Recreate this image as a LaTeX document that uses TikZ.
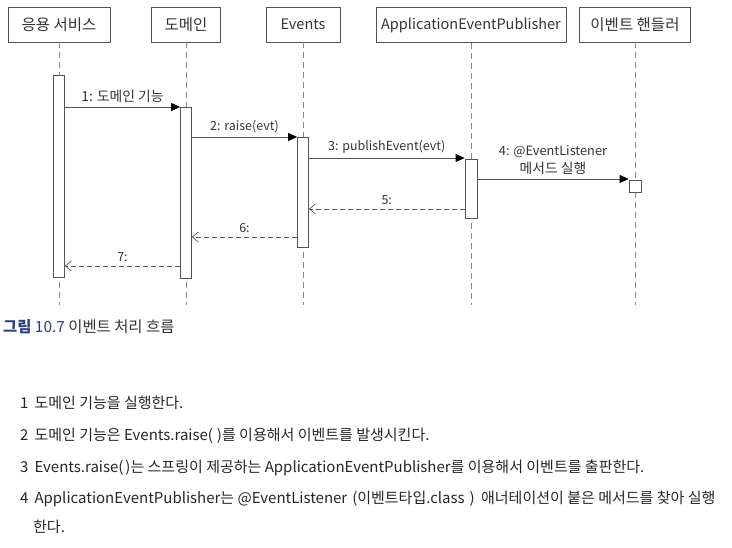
\documentclass[tikz,border=0pt]{standalone}
\usepackage{fontspec}
\setmainfont{Noto Sans CJK KR}
\usetikzlibrary{arrows.meta}
\definecolor{ln}{HTML}{555555}
\definecolor{tx}{HTML}{333333}
\definecolor{capblue}{HTML}{2B3F8C}
\newcommand\pgap{(\hspace{4pt})}
\newcommand\pgapn{(\hspace{2pt})}
\begin{document}
\begin{tikzpicture}[x=1pt,y=-1pt,
  head/.style={draw=ln, line width=0.7pt, rectangle, minimum height=35pt, inner sep=0pt, font=\fontsize{15.5}{17}\selectfont, text=tx},
  lathead/.style={head, font=\fontsize{14.5}{17}\selectfont},
  act/.style={draw=ln, fill=white, line width=0.7pt, inner sep=0pt, minimum width=11pt},
  life/.style={draw=ln!70, dash pattern=on 6pt off 4pt, line width=0.5pt},
  msg/.style={draw=ln, line width=0.7pt, -{Triangle[length=9pt,width=8pt,color=black]}},
  ret/.style={draw=ln, line width=0.7pt, dash pattern=on 5pt off 3pt, -{Straight Barb[length=6pt,width=10pt]}},
  lbl/.style={font=\fontsize{12.5}{18}\selectfont, text=tx, midway, above=3pt, inner sep=1pt},
  krlbl/.style={lbl, font=\fontsize{13.8}{18}\selectfont},
  listline/.style={anchor=west, font=\fontsize{15}{17}\selectfont, text=black!85, inner sep=0pt}]
\useasboundingbox (0,0) rectangle (732,548);
% headers
\node[head, minimum width=102pt] (h1) at (59,24.5) {응용 서비스};
\node[head, minimum width=69pt] (h2) at (186,24.5) {도메인};
\node[lathead, minimum width=74pt] (h3) at (303,24.5) {Events};
\node[lathead, minimum width=190pt] (h4) at (471,25) {ApplicationEventPublisher};
\node[head, minimum width=111pt] (h5) at (635,24.5) {이벤트 핸들러};
% lifeline ends
\coordinate (e1) at (59,305);
\coordinate (e2) at (186,305);
\coordinate (e3) at (303,305);
\coordinate (e4) at (471,305);
\coordinate (e5) at (635,305);
\draw[life] (h1.south) -- (e1);
\draw[life] (h2.south) -- (e2);
\draw[life] (h3.south) -- (e3);
\draw[life] (h4.south) -- (e4);
\draw[life] (h5.south) -- (e5);
% activations
\node[act, minimum height=202pt] (a1) at (59,176) {};
\node[act, minimum height=171pt] (a2) at (186,192.5) {};
\node[act, minimum height=110pt] (a3) at (303,192) {};
\node[act, minimum width=12pt, minimum height=59pt] (a4) at (471,188.5) {};
\node[act, minimum width=12pt, minimum height=12pt] (a5) at (635,186) {};
% message rows
\coordinate (y1) at (0,107);
\coordinate (y2) at (0,137);
\coordinate (y3) at (0,158);
\coordinate (y4) at (0,179);
\coordinate (y5) at (0,209);
\coordinate (y6) at (0,237);
\coordinate (y7) at (0,266);
\draw[msg] (a1.east |- y1) -- (a2.west |- y1) node[krlbl] {1: 도메인 기능};
\draw[msg] (a2.east |- y2) -- (a3.west |- y2) node[lbl] {2: raise(evt)};
\draw[msg] (a3.east |- y3) -- (a4.west |- y3) node[lbl] {3: publishEvent(evt)};
\draw[msg] (a4.east |- y4) -- (a5.west |- y4) node[lbl, align=center] {\fontsize{12.8}{18}\selectfont 4: @EventListener\\\fontsize{13.8}{18}\selectfont 메서드 실행};
\draw[ret] (a4.west |- y5) -- (a3.east |- y5) node[lbl] {5:};
\draw[ret] (a3.west |- y6) -- (a2.east |- y6) node[lbl] {6:};
\draw[ret] (a2.west |- y7) -- (a1.east |- y7) node[lbl] {7:};
% caption
\node[anchor=west, inner sep=0pt, font=\fontsize{15.4}{17}\selectfont, text=tx] (cap) at (3,327) {\textcolor{capblue}{\bfseries 그림} \textcolor{capblue}{10.7} 이벤트 처리 흐름};
% list
\node[listline] (l1) at (20,403) {1\hspace{6pt}도메인 기능을 실행한다.};
\node[listline] (l2) at (20,436) {2\hspace{6pt}도메인 기능은 Events.raise\pgap 를 이용해서 이벤트를 발생시킨다.};
\node[listline] (l3) at (20,468) {3\hspace{6pt}Events.raise\pgapn 는 스프링이 제공하는 ApplicationEventPublisher를 이용해서 이벤트를 출판한다.};
\node[listline] (l4) at (20,499) {4\hspace{6pt}ApplicationEventPublisher는 @EventListener\hspace{5pt}(이벤트타입.class\hspace{5pt})\hspace{3pt} 애너테이션이 붙은 메서드를 찾아 실행};
\node[listline] (l5) at (33,527) {한다.};
\end{tikzpicture}
\end{document}
